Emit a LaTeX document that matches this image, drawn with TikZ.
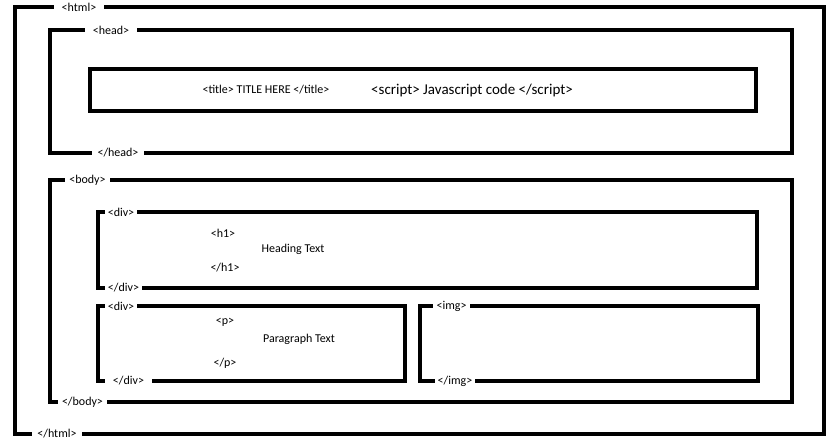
\documentclass[tikz,border=0pt]{standalone}
\usepackage{fontspec}
\setmainfont{Carlito}
\usetikzlibrary{positioning}

\begin{document}
\begin{tikzpicture}[x=1pt, y=-1pt, font=\fontsize{12}{14}\selectfont,
    box/.style={draw, line width=4pt, inner sep=0pt, outer sep=0pt},
    tag/.style={fill=white, inner ysep=1pt, inner xsep=#1},
    tag/.default=4pt,
    txt/.style={inner sep=0pt}]
    \useasboundingbox (0,0) rectangle (834,442);
    % nested boxes
    \node[box, minimum width=809pt, minimum height=427pt] (html) at (419.5,220.5) {};
    \node[box, minimum width=742pt, minimum height=123pt] (head) at (421,91.5) {};
    \node[box, minimum width=666pt, minimum height=42pt] (title) at (423,90) {};
    \node[box, minimum width=742pt, minimum height=222pt] (body) at (421,291) {};
    \node[box, minimum width=659pt, minimum height=76pt] (divone) at (427.5,250) {};
    \node[box, minimum width=307pt, minimum height=75pt] (divtwo) at (251.5,343.5) {};
    \node[box, minimum width=338pt, minimum height=75pt] (img) at (589,343.5) {};
    % tags sitting on the borders
    \node[tag=8pt] (htmlopen) at (79,7) {<html>};
    \node[tag=5pt] (htmlclose) at (57,434) {</html>};
    \node[tag=8pt] (headopen) at (111,30) {<head>};
    \node[tag=6pt] (headclose) at (118,153) {</head>};
    \node[tag=4.5pt] (bodyopen) at (87.5,180) {<body>};
    \node[tag=4pt] (bodyclose) at (82.5,402) {</body>};
    \node[tag=2.5pt] (divoneopen) at (121,212) {<div>};
    \node[tag=3pt] (divoneclose) at (123.5,288) {</div>};
    \node[tag=2.5pt] (divtwoopen) at (121,306) {<div>};
    \node[tag=8pt] (divtwoclose) at (128.5,381) {</div>};
    \node[tag=3.5pt] (imgopen) at (451.5,306) {<img>};
    \node[tag=3pt] (imgclose) at (455,381) {</img>};
    % contents
    \node[txt] (titletext) at (266,90) {<title> TITLE HERE </title>};
    \node[txt, font=\fontsize{15}{18}\selectfont] (script) at (472,90) {<script> Javascript code </script>};
    \node[txt] (hopen) at (223,233) {<h1>};
    \node[txt] (heading) at (293,249) {Heading Text};
    \node[txt] (hclose) at (225,268) {</h1>};
    \node[txt] (popen) at (225,322) {<p>};
    \node[txt] (para) at (299,339) {Paragraph Text};
    \node[txt] (pclose) at (225,363) {</p>};
\end{tikzpicture}
\end{document}
